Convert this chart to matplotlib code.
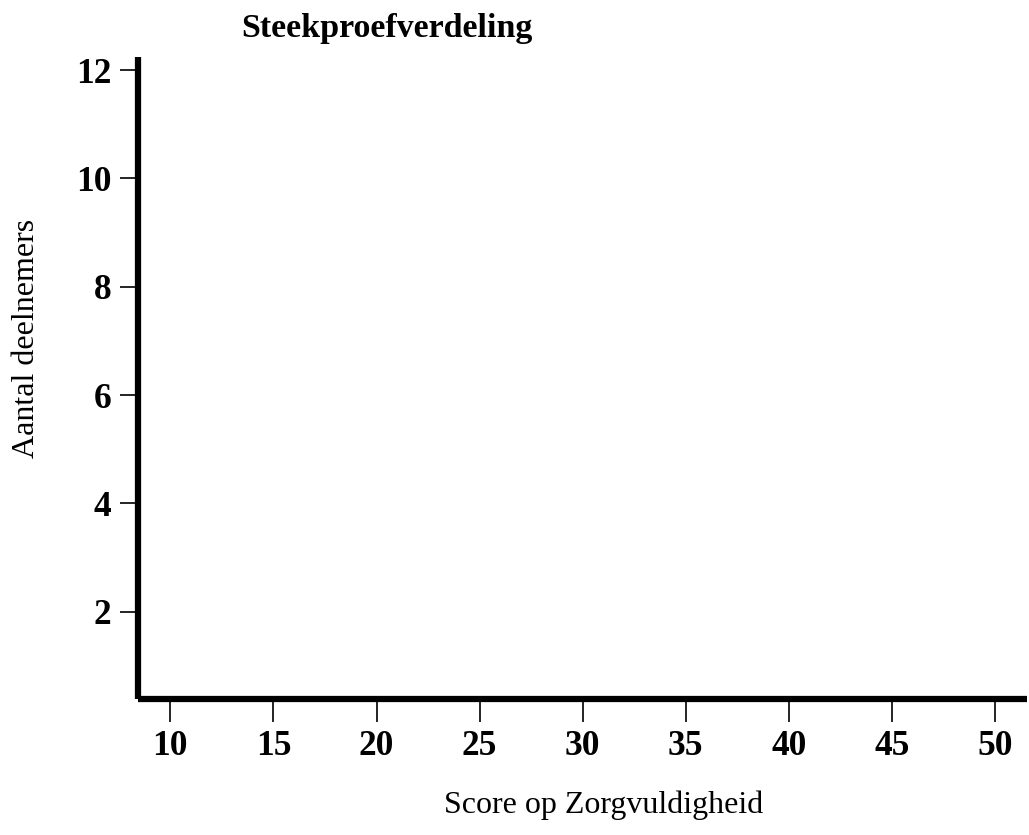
import matplotlib
matplotlib.use("Agg")
import matplotlib.pyplot as plt

plt.rcParams['font.family'] = ['Liberation Serif', 'DejaVu Serif']

# chart has no plotted data, only axes
x_ticks = [10, 15, 20, 25, 30, 35, 40, 45, 50]
y_ticks = [2, 4, 6, 8, 10, 12]
x_range = (8.43, 51.55)
y_range = (0.39, 12.24)

title = 'Steekproefverdeling'
x_label = 'Score op Zorgvuldigheid'
y_label = 'Aantal deelnemers'

fig = plt.figure(figsize=(10.29, 8.35), dpi=100)
ax = fig.add_axes([0.1341, 0.1629, 0.998 - 0.1341, 0.9317 - 0.1629])

ax.set_xlim(*x_range)
ax.set_ylim(*y_range)
ax.set_xticks(x_ticks)
ax.set_yticks(y_ticks)
ax.set_xticklabels([str(v) for v in x_ticks], fontsize=25.5, fontweight='bold')
ax.set_yticklabels([str(v) for v in y_ticks], fontsize=25.5, fontweight='bold')

for side in ['top', 'right']:
    ax.spines[side].set_visible(False)
for side in ['left', 'bottom']:
    ax.spines[side].set_linewidth(4.5)
    ax.spines[side].set_capstyle('butt')

ax.tick_params(axis='x', length=16.5, width=1.2, pad=5.5)
ax.tick_params(axis='y', length=13, width=1.2, pad=6)

fig.text(241 / 1029, 1 - 28 / 835, title, fontsize=24.5, fontweight='bold',
         ha='left', va='center')
fig.text(604 / 1029, 1 - 805 / 835, x_label, fontsize=23, ha='center', va='center')
fig.text(27 / 1029, 1 - 338 / 835, y_label, fontsize=23, rotation=90,
         ha='center', va='center')

fig.savefig('out.png', dpi=100)
